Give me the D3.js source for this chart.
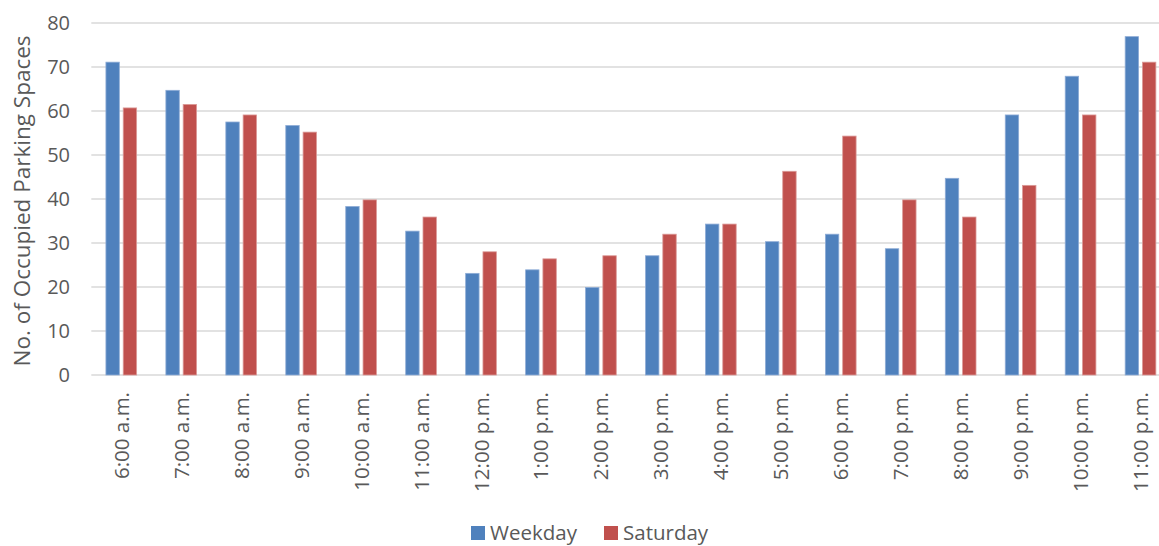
<!DOCTYPE html>
<html>
<head>
<meta charset="utf-8">
<script src="https://cdn.jsdelivr.net/npm/d3@7"></script>
<style>
  body { margin: 0; background: #fff; }
  svg text { font-family: "Open Sans", "Noto Sans", sans-serif; fill: #595959; }
</style>
</head>
<body>
<svg id="chart" width="1159" height="546"></svg>
<script>
// Parking occupancy by hour
const hours = ['6:00 a.m.', '7:00 a.m.', '8:00 a.m.', '9:00 a.m.', '10:00 a.m.', '11:00 a.m.',
  '12:00 p.m.', '1:00 p.m.', '2:00 p.m.', '3:00 p.m.', '4:00 p.m.', '5:00 p.m.',
  '6:00 p.m.', '7:00 p.m.', '8:00 p.m.', '9:00 p.m.', '10:00 p.m.', '11:00 p.m.'];
const seriesNames = ['Weekday', 'Saturday'];
const weekday = [71.1, 64.7, 57.5, 56.7, 38.3, 32.7, 23.1, 23.9, 19.9, 27.1, 34.3, 30.3, 32.0, 28.7, 44.7, 59.1, 67.9, 76.9];
const saturday = [60.7, 61.5, 59.1, 55.2, 39.8, 35.9, 28.0, 26.4, 27.1, 32.0, 34.3, 46.3, 54.3, 39.8, 35.9, 43.1, 59.1, 71.1];
const yTicks = [0, 10, 20, 30, 40, 50, 60, 70, 80];

const colors = { Weekday: '#4F81BD', Saturday: '#C0504D' };
const strokes = { Weekday: '#8EACD6', Saturday: '#DB9A98' };

const svg = d3.select('#chart');
const width = 1159;
const plotLeft = 91.3;
const plotRight = 1170.5;
const plotTop = 23;
const plotBottom = 375;

const x0 = d3.scaleBand().domain(hours).range([plotLeft, plotRight]).padding(0);
const x1 = d3.scaleBand().domain(seriesNames).range([0, 30.7]).paddingInner(0.225).paddingOuter(0);
const y = d3.scaleLinear().domain([0, 80]).range([plotBottom, plotTop]);

const rows = hours.map((h, i) => ({ hour: h, Weekday: weekday[i], Saturday: saturday[i] }));

// gridlines
svg.append('g')
  .selectAll('line')
  .data(yTicks)
  .join('line')
  .attr('x1', plotLeft)
  .attr('x2', width)
  .attr('y1', d => y(d))
  .attr('y2', d => y(d))
  .attr('stroke', '#D9D9D9')
  .attr('stroke-width', 1.5);

// y tick labels
svg.append('g')
  .selectAll('text')
  .data(yTicks)
  .join('text')
  .attr('x', 70)
  .attr('y', d => y(d))
  .attr('dy', '0.35em')
  .attr('text-anchor', 'end')
  .attr('font-size', '20px')
  .text(d => d);

// bars
const offset = (x0.bandwidth() - 30.7) / 2;
svg.append('g')
  .selectAll('g')
  .data(rows)
  .join('g')
  .attr('transform', d => `translate(${x0(d.hour) + offset},0)`)
  .selectAll('rect')
  .data(d => seriesNames.map(s => ({ s, v: d[s] })))
  .join('rect')
  .attr('x', d => x1(d.s))
  .attr('width', x1.bandwidth())
  .attr('y', d => y(d.v))
  .attr('height', d => y(0) - y(d.v))
  .attr('fill', d => colors[d.s])
  .attr('stroke', d => strokes[d.s])
  .attr('stroke-width', 0.8);

// x labels (rotated)
svg.append('g')
  .selectAll('text')
  .data(hours)
  .join('text')
  .attr('transform', d => `translate(${x0(d) + x0.bandwidth() / 2 + 7.5},392) rotate(-90)`)
  .attr('text-anchor', 'end')
  .attr('font-size', '20.5px')
  .text(d => d);

// y axis title
svg.append('text')
  .attr('transform', 'translate(30,201) rotate(-90)')
  .attr('text-anchor', 'middle')
  .attr('font-size', '22.5px')
  .text('No. of Occupied Parking Spaces');

// legend
const legend = svg.append('g');
const legendX = [471, 604];
seriesNames.forEach((s, i) => {
  legend.append('rect')
    .attr('x', legendX[i])
    .attr('y', 526)
    .attr('width', 14)
    .attr('height', 14)
    .attr('fill', colors[s]);
  legend.append('text')
    .attr('x', legendX[i] + 19)
    .attr('y', 540)
    .attr('font-size', '20.5px')
    .text(s);
});
</script>
</body>
</html>
